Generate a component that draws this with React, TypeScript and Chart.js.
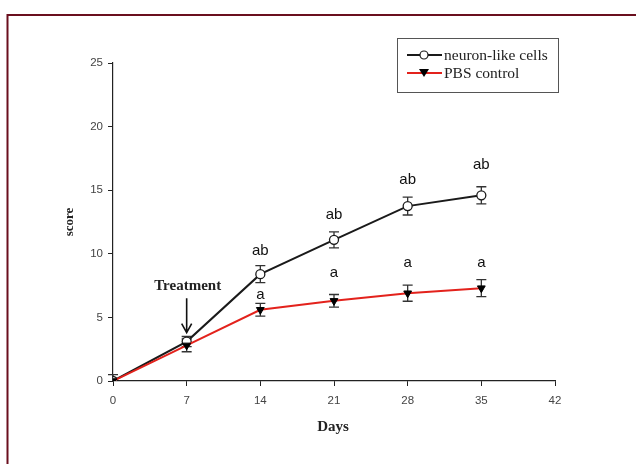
import React, { useEffect, useRef } from "react";
import { Chart, registerables } from "chart.js";

Chart.register(...registerables);

const days = [0, 7, 14, 21, 28, 35];
const xTicks = [0, 7, 14, 21, 28, 35, 42];
const yTicks = [0, 5, 10, 15, 20, 25];

const neuronMean = [0, 3.1, 8.4, 11.1, 13.75, 14.6];
const neuronErr = [0.5, 0.4, 0.67, 0.63, 0.7, 0.67];
const pbsMean = [0, 2.8, 5.6, 6.3, 6.9, 7.3];
const pbsErr = [0, 0.5, 0.5, 0.5, 0.63, 0.67];

const neuronLetters = ["", "", "ab", "ab", "ab", "ab"];
const neuronLetterLevel = [0, 0, 10.2, 13.05, 15.8, 17.0];
const pbsLetters = ["", "", "a", "a", "a", "a"];
const pbsLetterLevel = [0, 0, 6.76, 8.49, 9.28, 9.28];

const legendLabels = ["neuron-like cells", "PBS control"];
const treatmentDay = 7;
const treatmentLabel = "Treatment";
const treatmentTextLevel = 7.45;
const treatmentArrowFrom = 6.5;
const treatmentArrowTo = 3.8;

const SERIF = "'Liberation Serif', 'Times New Roman', serif";
const SANS = "'Liberation Sans', Arial, sans-serif";

const overlayPlugin = {
  id: "overlay",
  beforeDatasetsDraw(chart: any) {
    const { ctx, chartArea, scales } = chart;
    const x = scales.x;
    const y = scales.y;
    ctx.save();
    ctx.beginPath();
    ctx.rect(chartArea.left - 10, chartArea.top - 10, chartArea.right - chartArea.left + 20, chartArea.bottom - chartArea.top + 10);
    ctx.clip();
    ctx.strokeStyle = "#333";
    ctx.lineWidth = 1.3;
    const drawErr = (means: number[], errs: number[]) => {
      means.forEach((m, i) => {
        const e = errs[i];
        if (!e) return;
        const px = x.getPixelForValue(days[i]);
        const top = y.getPixelForValue(m + e);
        const bot = y.getPixelForValue(m - e);
        ctx.beginPath();
        ctx.moveTo(px, top);
        ctx.lineTo(px, bot);
        ctx.moveTo(px - 5, top);
        ctx.lineTo(px + 5, top);
        ctx.moveTo(px - 5, bot);
        ctx.lineTo(px + 5, bot);
        ctx.stroke();
      });
    };
    drawErr(neuronMean, neuronErr);
    drawErr(pbsMean, pbsErr);
    ctx.restore();
  },
  afterDraw(chart: any) {
    const { ctx, chartArea, scales } = chart;
    const x = scales.x;
    const y = scales.y;
    ctx.save();

    // letters
    ctx.fillStyle = "#111";
    ctx.font = `15px ${SANS}`;
    ctx.textAlign = "center";
    ctx.textBaseline = "middle";
    neuronLetters.forEach((t, i) => {
      if (!t) return;
      ctx.fillText(t, x.getPixelForValue(days[i]), y.getPixelForValue(neuronLetterLevel[i]));
    });
    pbsLetters.forEach((t, i) => {
      if (!t) return;
      ctx.fillText(t, x.getPixelForValue(days[i]), y.getPixelForValue(pbsLetterLevel[i]));
    });

    // treatment annotation
    const tx = x.getPixelForValue(treatmentDay);
    ctx.font = `bold 15px ${SERIF}`;
    ctx.fillStyle = "#222";
    ctx.fillText(treatmentLabel, tx + 1, y.getPixelForValue(treatmentTextLevel));
    const a0 = y.getPixelForValue(treatmentArrowFrom);
    const a1 = y.getPixelForValue(treatmentArrowTo);
    ctx.strokeStyle = "#111";
    ctx.lineWidth = 1.6;
    ctx.beginPath();
    ctx.moveTo(tx, a0);
    ctx.lineTo(tx, a1);
    ctx.moveTo(tx - 5, a1 - 9);
    ctx.lineTo(tx, a1);
    ctx.lineTo(tx + 5, a1 - 9);
    ctx.stroke();

    // axis titles
    ctx.font = `bold 15px ${SERIF}`;
    ctx.fillStyle = "#222";
    ctx.fillText("Days", (chartArea.left + chartArea.right) / 2 - 1, 427);
    ctx.save();
    ctx.translate(70, (chartArea.top + chartArea.bottom) / 2);
    ctx.rotate(-Math.PI / 2);
    ctx.font = `bold 13px ${SERIF}`;
    ctx.fillText("score", 0, 0);
    ctx.restore();

    // legend
    const lx = 397.5, ly = 38.5, lw = 161, lh = 54;
    ctx.strokeStyle = "#555";
    ctx.lineWidth = 1;
    ctx.strokeRect(lx, ly, lw, lh);
    ctx.textAlign = "left";
    ctx.font = `15.5px ${SERIF}`;
    const rows = [55, 73];
    // neuron row
    ctx.strokeStyle = "#1a1a1a";
    ctx.lineWidth = 1.8;
    ctx.beginPath();
    ctx.moveTo(407, rows[0]);
    ctx.lineTo(442, rows[0]);
    ctx.stroke();
    ctx.beginPath();
    ctx.arc(424, rows[0], 4, 0, Math.PI * 2);
    ctx.fillStyle = "#fff";
    ctx.fill();
    ctx.lineWidth = 1.2;
    ctx.stroke();
    // pbs row
    ctx.strokeStyle = "#e3221c";
    ctx.lineWidth = 1.8;
    ctx.beginPath();
    ctx.moveTo(407, rows[1]);
    ctx.lineTo(442, rows[1]);
    ctx.stroke();
    ctx.fillStyle = "#000";
    ctx.beginPath();
    ctx.moveTo(419, rows[1] - 4);
    ctx.lineTo(429, rows[1] - 4);
    ctx.lineTo(424, rows[1] + 4);
    ctx.closePath();
    ctx.fill();
    ctx.fillStyle = "#222";
    ctx.fillText(legendLabels[0], 444, rows[0] + 1);
    ctx.fillText(legendLabels[1], 444, rows[1] + 1);

    // frame
    ctx.strokeStyle = "#6a0f1e";
    ctx.lineWidth = 2;
    ctx.beginPath();
    ctx.moveTo(636, 15);
    ctx.lineTo(7.5, 15);
    ctx.lineTo(7.5, 464);
    ctx.stroke();

    ctx.restore();
  },
};

export default function App() {
  const ref = useRef<HTMLCanvasElement | null>(null);
  useEffect(() => {
    document.body.style.margin = "0";
    document.body.style.background = "#fff";
    const canvas = ref.current;
    if (!canvas) return;
    const chart = new Chart(canvas, {
      type: "line",
      data: {
        datasets: [
          {
            label: legendLabels[1],
            data: days.map((d, i) => ({ x: d, y: pbsMean[i] })),
            borderColor: "#e3221c",
            borderWidth: 2,
            pointStyle: "triangle",
            rotation: 180,
            pointRadius: 4.5,
            pointBackgroundColor: "#000",
            pointBorderColor: "#000",
            pointBorderWidth: 1,
            tension: 0,
            order: 0,
          },
          {
            label: legendLabels[0],
            data: days.map((d, i) => ({ x: d, y: neuronMean[i] })),
            borderColor: "#1a1a1a",
            borderWidth: 2,
            pointStyle: "circle",
            pointRadius: 4.5,
            pointBackgroundColor: "#fff",
            pointBorderColor: "#1a1a1a",
            pointBorderWidth: 1.3,
            tension: 0,
            order: 1,
          },
        ],
      },
      options: {
        responsive: false,
        animation: false,
        devicePixelRatio: 1,
        layout: { padding: { top: 63, right: 81, bottom: 0, left: 0 } },
        plugins: { legend: { display: false }, tooltip: { enabled: false }, title: { display: false } },
        scales: {
          x: {
            type: "linear",
            min: 0,
            max: 42,
            afterBuildTicks: (s: any) => {
              s.ticks = xTicks.map((v) => ({ value: v }));
            },
            afterFit: (s: any) => {
              s.height = 83;
            },
            grid: { display: true, drawOnChartArea: false, drawTicks: true, tickLength: 5, color: "#222", lineWidth: 1 },
            border: { display: true, color: "#222", width: 1.2 },
            ticks: { padding: 8, color: "#444", font: { family: SANS, size: 11.5 } },
          },
          y: {
            type: "linear",
            min: 0,
            max: 25,
            afterBuildTicks: (s: any) => {
              s.ticks = yTicks.map((v) => ({ value: v }));
            },
            afterFit: (s: any) => {
              s.width = 113;
            },
            grid: { display: true, drawOnChartArea: false, drawTicks: true, tickLength: 5, color: "#222", lineWidth: 1 },
            border: { display: true, color: "#222", width: 1.2 },
            ticks: { padding: 5, color: "#444", font: { family: SANS, size: 11.5 } },
          },
        },
      },
      plugins: [overlayPlugin],
    });
    return () => chart.destroy();
  }, []);
  return <canvas ref={ref} width={636} height={464} style={{ display: "block", width: 636, height: 464 }} />;
}
